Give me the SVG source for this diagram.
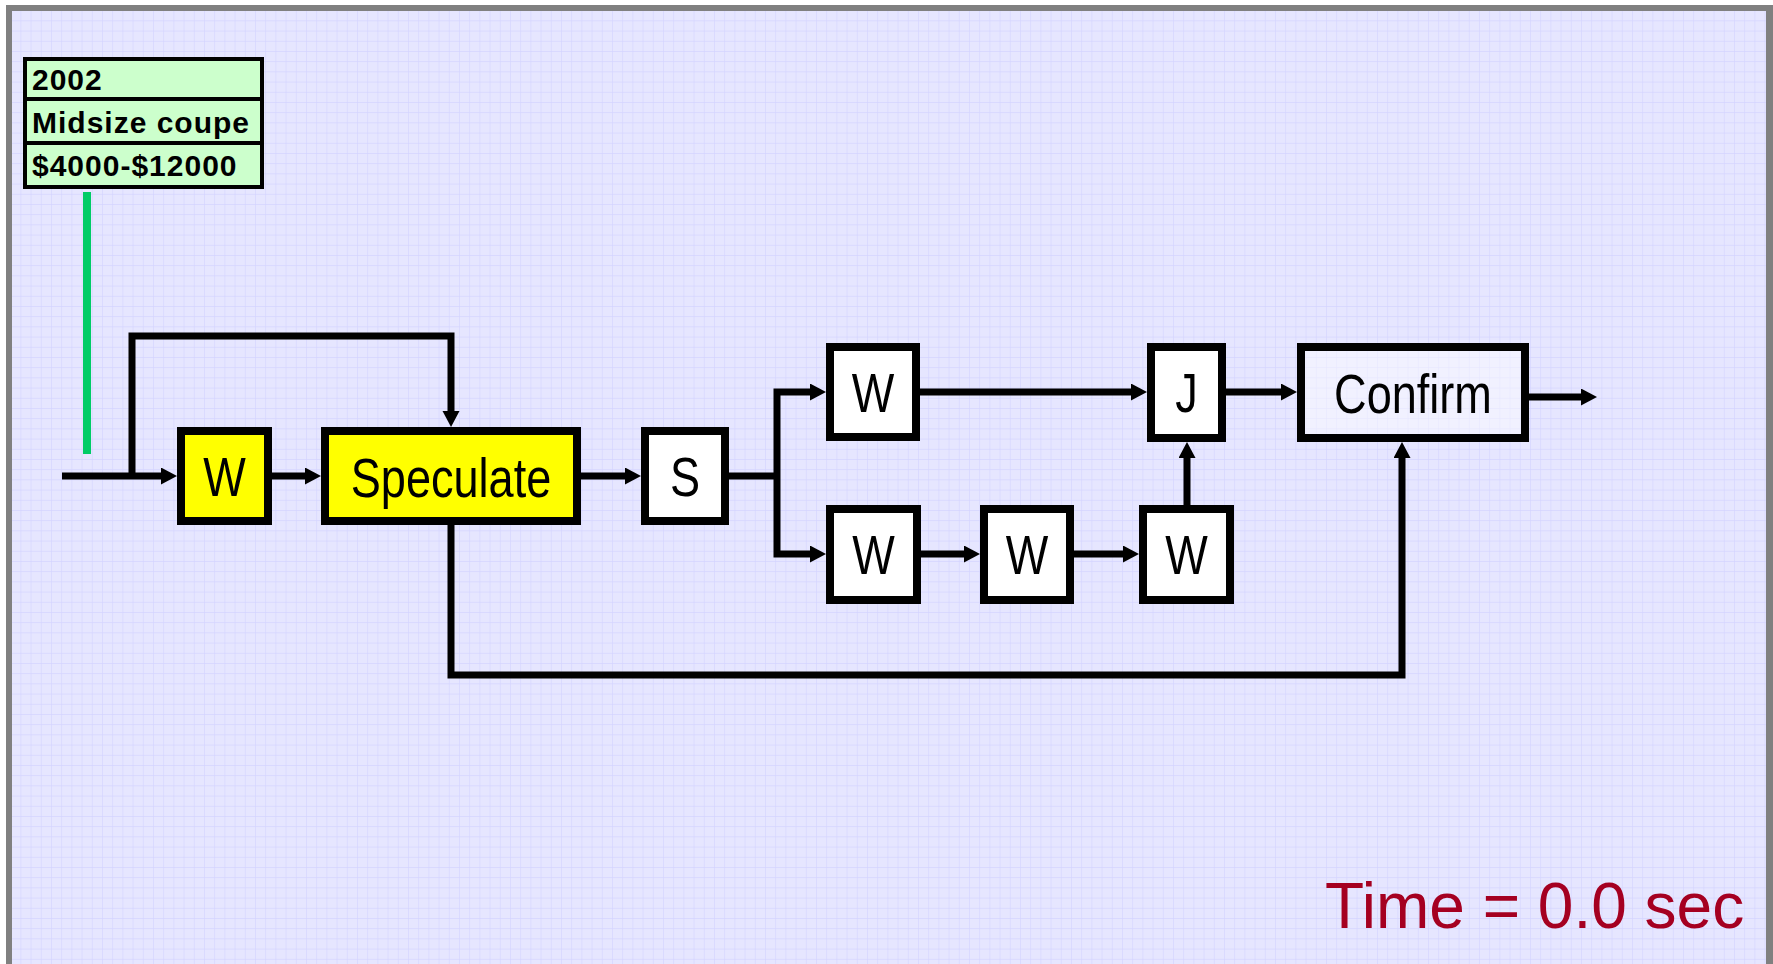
<svg xmlns="http://www.w3.org/2000/svg" width="1773" height="964" viewBox="0 0 1773 964">
<style>
.box{stroke:#000;stroke-width:8}
.lbl{font-family:"Liberation Sans",Arial,sans-serif;font-size:55px;text-anchor:middle;fill:#000}
.tbl{font-family:"Liberation Sans",Arial,sans-serif;font-weight:bold;font-size:30px;letter-spacing:1px;fill:#000}
.con{fill:none;stroke:#000;stroke-width:7;stroke-linejoin:miter}
.arr{marker-end:url(#ah)}
</style>
<defs>
<pattern id="grid" x="0" y="0" width="10.2" height="10.2" patternUnits="userSpaceOnUse">
<rect width="10.2" height="10.2" fill="#E6E6FF"/>
<path d="M0,0 H10.2 M0,0 V10.2" stroke="#D4D4FF" stroke-width="1.2" fill="none"/>
</pattern>
<marker id="ah" markerUnits="userSpaceOnUse" markerWidth="18" markerHeight="18" refX="6" refY="8.5" orient="auto" viewBox="0 0 18 18">
<path d="M0,0 L16,8.5 L0,17 z" fill="#000"/>
</marker>
</defs>
<rect x="0" y="0" width="1773" height="964" fill="#fff"/>
<rect x="6" y="5" width="1767" height="959" fill="#808080"/>
<rect x="12" y="11" width="1754" height="953" fill="url(#grid)"/>

<g id="info-table">
<rect x="25" y="59" width="237" height="40" fill="#CCFFCC" stroke="#000" stroke-width="4"/>
<rect x="25" y="99" width="237" height="44" fill="#CCFFCC" stroke="#000" stroke-width="4"/>
<rect x="25" y="143" width="237" height="44" fill="#CCFFCC" stroke="#000" stroke-width="4"/>
<text class="tbl" x="32" y="90">2002</text>
<text class="tbl" x="32" y="133">Midsize coupe</text>
<text class="tbl" x="32" y="176">$4000-$12000</text>
</g>
<g id="time-marker">
<rect x="83" y="192" width="8" height="262" fill="#00CC66"/>
</g>

<g id="connectors">
<path class="con arr" d="M62,476 H167"/>
<path class="con arr" d="M132,476 V336 H451 V417"/>
<path class="con arr" d="M272,476 H311"/>
<path class="con arr" d="M581,476 H631"/>
<path class="con" d="M729,476 H777"/>
<path class="con arr" d="M777,476 V392 H816"/>
<path class="con arr" d="M777,476 V554 H816"/>
<path class="con arr" d="M920,392 H1137"/>
<path class="con arr" d="M921,554 H970"/>
<path class="con arr" d="M1074,554 H1129"/>
<path class="con arr" d="M1187,505 V452"/>
<path class="con arr" d="M1226,392 H1287"/>
<path class="con arr" d="M1529,397 H1587"/>
<path class="con arr" d="M451,525 V675 H1402 V452"/>
</g>

<g id="node-w1">
<rect class="box" x="181" y="431" width="87" height="90" fill="#FFFF00"/>
<text class="lbl" transform="translate(224.5,496) scale(0.82,1)">W</text>
</g>
<g id="node-speculate">
<rect class="box" x="325" y="431" width="252" height="90" fill="#FFFF00"/>
<text class="lbl" transform="translate(451,497) scale(0.82,1)">Speculate</text>
</g>
<g id="node-s">
<rect class="box" x="645" y="431" width="80" height="90" fill="#fff"/>
<text class="lbl" transform="translate(685,496) scale(0.82,1)">S</text>
</g>
<g id="node-w-upper">
<rect class="box" x="830" y="347" width="86" height="90" fill="#fff"/>
<text class="lbl" transform="translate(873,412) scale(0.82,1)">W</text>
</g>
<g id="node-w-lower1">
<rect class="box" x="830" y="509" width="87" height="91" fill="#fff"/>
<text class="lbl" transform="translate(873.5,574) scale(0.82,1)">W</text>
</g>
<g id="node-w-lower2">
<rect class="box" x="984" y="509" width="86" height="91" fill="#fff"/>
<text class="lbl" transform="translate(1027,574) scale(0.82,1)">W</text>
</g>
<g id="node-w-lower3">
<rect class="box" x="1143" y="509" width="87" height="91" fill="#fff"/>
<text class="lbl" transform="translate(1186.5,574) scale(0.82,1)">W</text>
</g>
<g id="node-j">
<rect class="box" x="1151" y="347" width="71" height="91" fill="#fff"/>
<text class="lbl" transform="translate(1186.5,412) scale(0.82,1)">J</text>
</g>
<g id="node-confirm">
<rect class="box" x="1301" y="347" width="224" height="91" fill="#fff" fill-opacity="0.45"/>
<text class="lbl" transform="translate(1413,413) scale(0.82,1)">Confirm</text>
</g>

<g id="time-label">
<text x="1325" y="928" font-family="Liberation Sans, Arial, sans-serif" font-size="64" fill="#A50021">Time = 0.0 sec</text>
</g>
</svg>
